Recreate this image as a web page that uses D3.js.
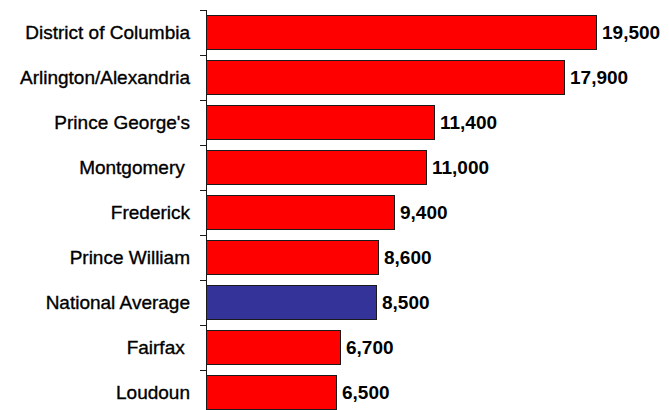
<!DOCTYPE html>
<html>
<head>
<meta charset="utf-8">
<script src="https://cdn.jsdelivr.net/npm/d3@7"></script>
<style>
  html, body { margin: 0; padding: 0; background: #fff; }
  svg { display: block; }
  text { font-family: "Liberation Sans", Arial, sans-serif; white-space: pre; }
</style>
</head>
<body>
<div id="chart"></div>
<script>
// Per-area values, top to bottom
const categories = [
  "District of Columbia",
  "Arlington/Alexandria",
  "Prince George's",
  "Montgomery ",
  "Frederick",
  "Prince William",
  "National Average",
  "Fairfax ",
  "Loudoun"
];
const values = [19500, 17900, 11400, 11000, 9400, 8600, 8500, 6700, 6500];
const highlighted = ["National Average"];

const width = 669, height = 410;
const axisX = 206;

const rows = categories.map((c, i) => ({ name: c, value: values[i] }));

const svg = d3.select("#chart").append("svg")
  .attr("width", width)
  .attr("height", height);

const x = d3.scaleLinear().domain([0, 23150]).range([axisX, width]);

const padInner = 0.24;
const y = d3.scaleBand()
  .domain(categories)
  .range([10, 10 + 9 * 44.96])
  .paddingInner(padInner)
  .paddingOuter(padInner / 2);

// Bars
svg.append("g").selectAll("rect")
  .data(rows)
  .join("rect")
  .attr("x", x(0) + 0.5)
  .attr("y", d => Math.round(y(d.name)) + 0.5)
  .attr("width", d => x(d.value) - x(0))
  .attr("height", Math.round(y.bandwidth()))
  .attr("fill", d => highlighted.includes(d.name) ? "#333399" : "#ff0000")
  .attr("stroke", "#1a1a1a")
  .attr("stroke-width", 1);

// Category axis: line with ticks at band boundaries
const axis = svg.append("g").attr("stroke", "#1a1a1a").attr("stroke-width", 1);
const step = y.step();
const bounds = d3.range(categories.length + 1).map(i => y.range()[0] + i * step);
axis.append("line")
  .attr("x1", axisX + 0.5).attr("x2", axisX + 0.5)
  .attr("y1", bounds[0]).attr("y2", bounds[bounds.length - 1]);
axis.selectAll("line.tick")
  .data(bounds)
  .join("line")
  .attr("class", "tick")
  .attr("x1", axisX - 6).attr("x2", axisX + 0.5)
  .attr("y1", d => Math.round(d) + 0.5)
  .attr("y2", d => Math.round(d) + 0.5);

// Category labels
svg.append("g").selectAll("text")
  .data(rows)
  .join("text")
  .attr("x", 190)
  .attr("y", d => y(d.name) + y.bandwidth() / 2)
  .attr("dy", "0.36em")
  .attr("text-anchor", "end")
  .attr("font-size", 19)
  .attr("fill", "#000")
  .attr("stroke", "#000")
  .attr("stroke-width", 0.35)
  .text(d => d.name);

// Value labels
const fmt = d3.format(",");
svg.append("g").selectAll("text")
  .data(rows)
  .join("text")
  .attr("x", d => x(d.value) + 6)
  .attr("y", d => y(d.name) + y.bandwidth() / 2)
  .attr("dy", "0.36em")
  .attr("font-size", 19)
  .attr("font-weight", "bold")
  .attr("fill", "#000")
  .text(d => fmt(d.value));
</script>
</body>
</html>
